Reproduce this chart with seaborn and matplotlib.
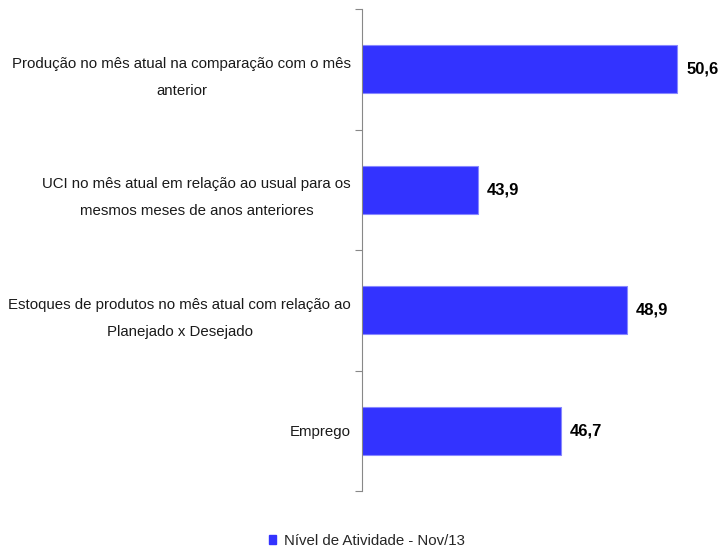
import matplotlib
matplotlib.use("Agg")
import matplotlib.pyplot as plt
import seaborn as sns
import pandas as pd
from matplotlib.patches import Patch

categorias = [
    "Produção no mês atual na comparação com o mês\nanterior",
    "UCI no mês atual em relação ao usual para os\nmesmos meses de anos anteriores",
    "Estoques de produtos no mês atual com relação ao\nPlanejado x Desejado",
    "Emprego",
]
valores = [50.6, 43.9, 48.9, 46.7]
serie = "Nível de Atividade - Nov/13"

COR = "#3333FF"
FONTE = ["Liberation Sans", "DejaVu Sans"]

sns.set_style("white")
plt.rcParams['font.family'] = FONTE

df = pd.DataFrame({"categoria": categorias, "valor": valores})

fig = plt.figure(figsize=(7.19, 5.54), dpi=100)
ax = fig.add_axes([362 / 719, 1 - 491 / 554, 1 - 362 / 719, (491 - 9) / 554])

sns.barplot(data=df, y="categoria", x="valor", orient="h", color=COR,
            saturation=1, width=0.4, edgecolor="#8888ff", linewidth=0.8, ax=ax)

ax.set_xlim(40, 52)
ax.set_ylim(3.5, -0.5)
ax.set_xlabel("")
ax.set_ylabel("")
ax.set_xticks([])

# rótulos de valor
for i, v in enumerate(valores):
    ax.text(v + 0.3, i, f"{v:.1f}".replace(".", ","), va="center", ha="left",
            fontsize=12, fontweight="bold", color="black")

# tick marks nas fronteiras das categorias
ax.set_yticks([i - 0.5 for i in range(len(categorias) + 1)], minor=True)
ax.tick_params(axis="y", which="minor", length=5, width=0.8, color="#888888", left=True)
ax.tick_params(axis="y", which="major", length=0, pad=8, labelsize=10.8, labelcolor="#1a1a1a")
for lbl in ax.get_yticklabels():
    lbl.set_multialignment("center")
    lbl.set_linespacing(2.2)

for s in ["top", "right", "bottom"]:
    ax.spines[s].set_visible(False)
ax.spines["left"].set_color("#888888")
ax.spines["left"].set_linewidth(0.8)

fig.legend(handles=[Patch(facecolor=COR, edgecolor=COR, label=serie)],
           loc="center", bbox_to_anchor=(0.51, 1 - 541 / 554), frameon=False,
           fontsize=10.8, handlelength=0.5, handleheight=0.5, handletextpad=0.5)

fig.savefig("out.png", dpi=100)
